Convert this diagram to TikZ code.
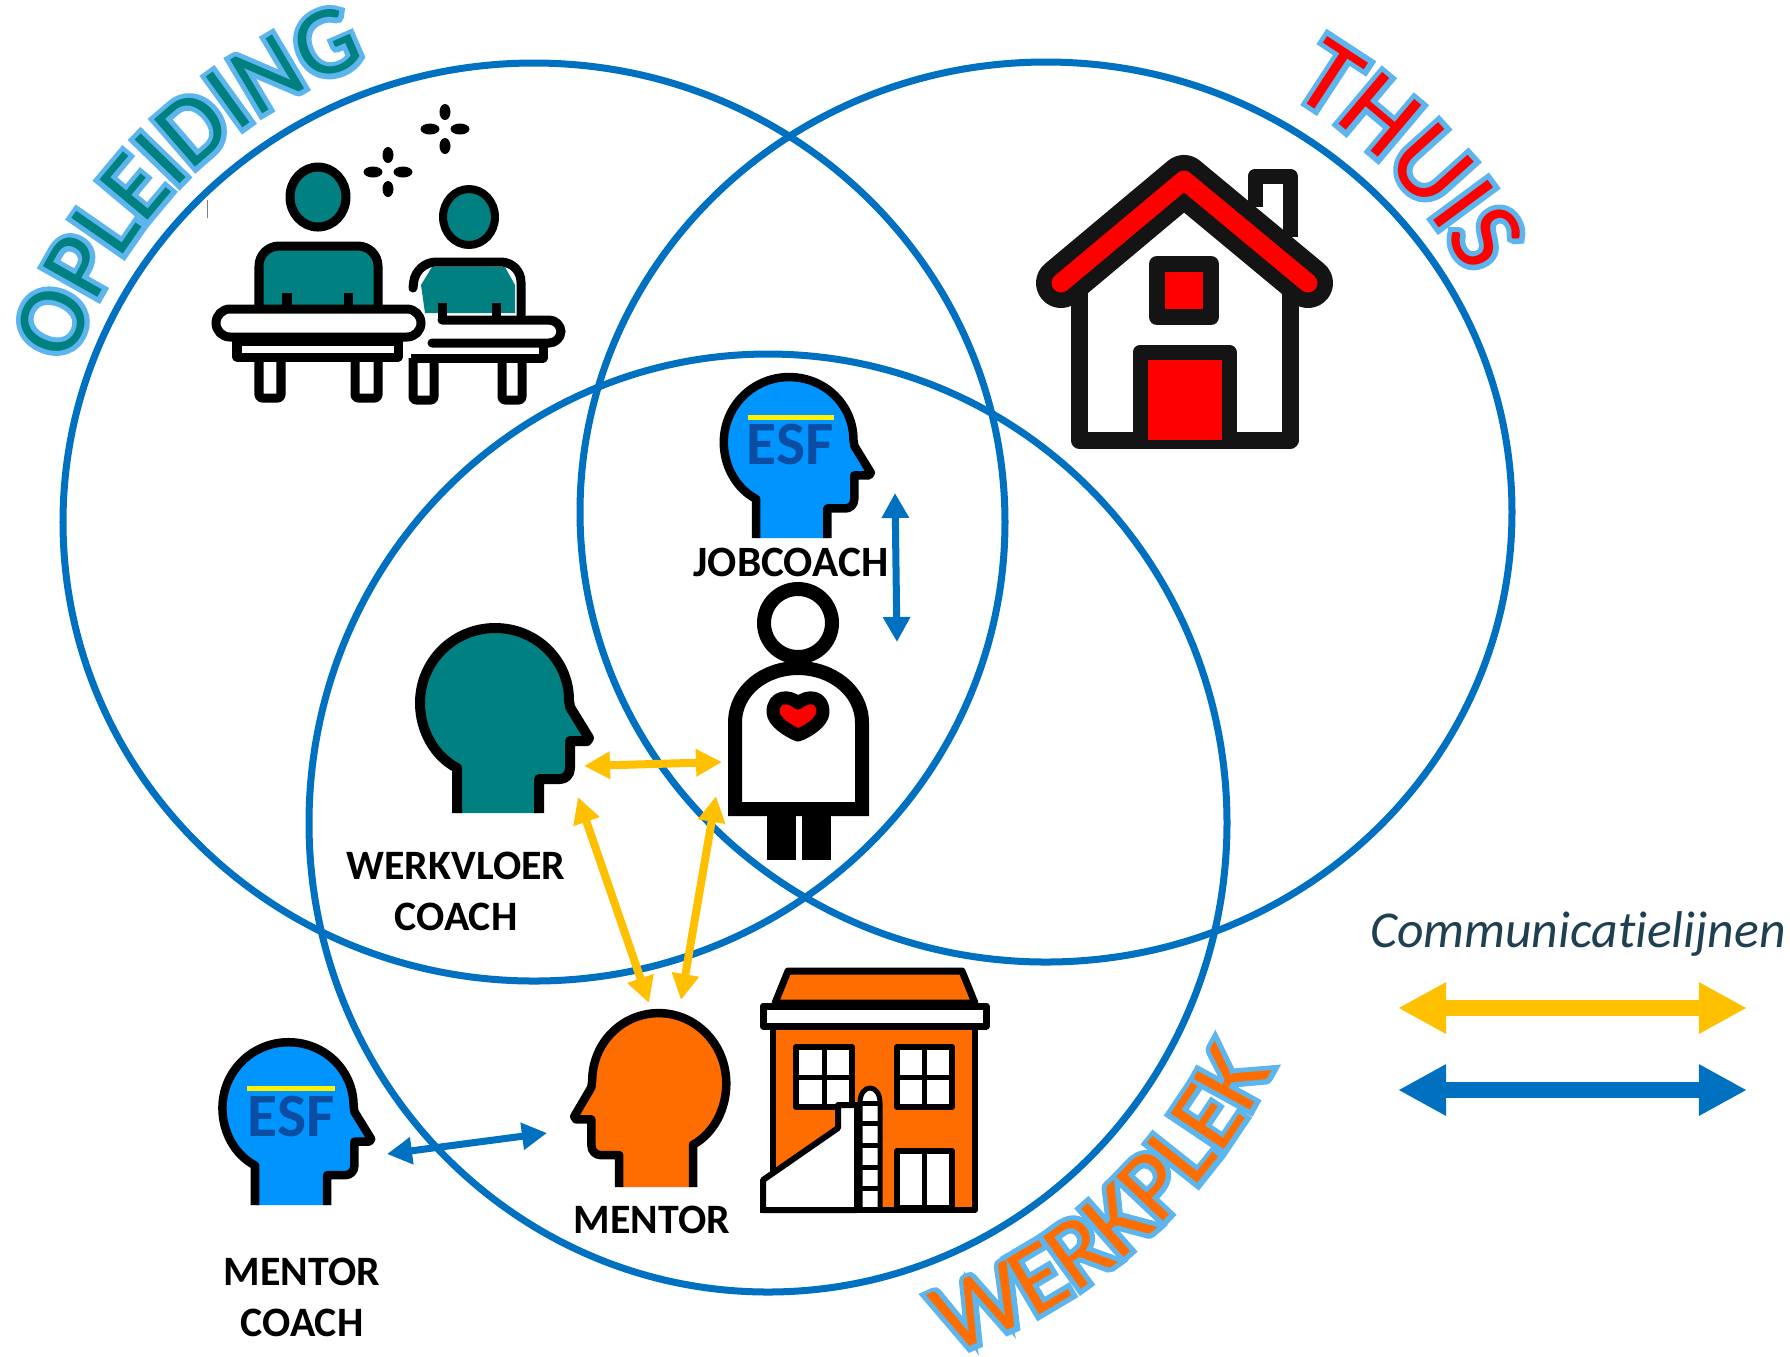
\documentclass[tikz,border=0pt]{standalone}
\usepackage{fontspec}
\setmainfont[Ligatures=NoCommon]{Carlito}
\newfontfamily\arcin{Carlito}
\newfontfamily\arcout[FakeBold=10]{Carlito}
\usetikzlibrary{arrows.meta,decorations.text}
\definecolor{ringblue}{HTML}{0070C0}
\definecolor{commyellow}{HTML}{FFC000}
\definecolor{schoolteal}{HTML}{008080}
\definecolor{esfblue}{HTML}{0094FF}
\definecolor{esfdark}{HTML}{0B4DA2}
\definecolor{workorange}{HTML}{FF6D00}
\definecolor{homered}{HTML}{FF0000}
\definecolor{arcblue}{HTML}{5CB5EC}
\definecolor{legendink}{HTML}{1F4050}
\definecolor{iconblack}{HTML}{141414}
\newcommand{\headoutline}{(0,0) -- (0,-45) .. controls (-23,-57) and (-37,-83) .. (-37,-110) .. controls (-37,-152) and (-3,-185) .. (38,-185) .. controls (80,-185) and (112,-152) .. (112,-113) -- (113,-106) -- (132,-75) -- (130,-72) -- (113,-72) -- (113,-45) .. controls (113,-38) and (108,-34) .. (103,-34) -- (82,-34) -- (82,0)}
\newcommand{\bowtext}[7]{%
	\path [line join=round, decorate, decoration={text along path, text align=center, text={|\arcout\fontsize{#3}{#3}\selectfont\color{arcblue}|#2}}] #4 ++(#5:#6) arc [start angle=#5, end angle=#7, radius=#6];
	\path [decorate, decoration={text along path, text align=center, text={|\arcin\fontsize{#3}{#3}\selectfont\color{#1}|#2}}] #4 ++(#5:#6) arc [start angle=#5, end angle=#7, radius=#6];}
\tikzset{
	ring/.style={draw=ringblue, line width=.07cm},
	rolelabel/.style={font=\fontsize{11.9}{14.5}\selectfont\bfseries, align=center, inner sep=0pt, text=black},
	esflabel/.style={font=\fontsize{17.5}{18}\selectfont\bfseries, inner sep=0pt, text=esfdark},
	yellowline/.style={commyellow, line width=.08cm, {Triangle[length=.26cm,width=.26cm]}-{Triangle[length=.26cm,width=.26cm]}},
	blueline/.style={ringblue, line width=.07cm, {Triangle[length=.25cm,width=.26cm]}-{Triangle[length=.25cm,width=.26cm]}},
	legendline/.style={line width=.16cm, {Triangle[length=.48cm,width=.48cm]}-{Triangle[length=.48cm,width=.48cm]}},
	icon/.style={draw=black, line join=round, line width=#1},
	icon/.default=.09cm,
	pics/headpic/.style={code={
		\fill [#1] \headoutline -- cycle;
		\draw [line join=round] \headoutline;
	}},
	pics/sparkpic/.style={code={
		\fill (0,-17) circle [x radius=5.5, y radius=8];
		\fill (0,17) circle [x radius=5.5, y radius=8];
		\fill (-15,0) circle [x radius=9.5, y radius=5.5];
		\fill (15,0) circle [x radius=9.5, y radius=5.5];
	}}
}
\begin{document}
\begin{tikzpicture}[x=.01cm,y=-.01cm]
		\useasboundingbox (0,0) rectangle (1790,1356);
		\fill [white] (0,0) rectangle (1790,1356);
		\draw [ring] (534,522) circle [x radius=471, y radius=459];
		\draw [ring] (1046,512) circle [x radius=466, y radius=450];
		\draw [ring] (768,823) circle [x radius=459, y radius=469];
		\bowtext{schoolteal}{OPLEIDING}{27.8}{(534,522)}{199.5}{490}{249.5}
		\bowtext{homered}{THUIS}{30}{(1046,512)}{301}{485}{330}
		\bowtext{workorange}{WERKPLEK}{28.5}{(768,823)}{71.5}{561}{25.5}
		%opleiding
		\draw [gray, line width=.01cm] (207,200) -- (207,218);
		\filldraw [icon, fill=schoolteal] (318,197) circle [x radius=28, y radius=30];
		\filldraw [icon, fill=schoolteal, rounded corners=.2cm] (259,305) -- (259,246) -- (378,246) -- (378,305);
		\draw [icon] (287,293) -- (287,305);
		\draw [icon] (348,293) -- (348,305);
		\filldraw [icon, fill=white, rounded corners=.14cm] (216,309) rectangle (421,337);
		\filldraw [icon, fill=white] (237,341) rectangle (398,357);
		\draw [icon, rounded corners=.03cm] (259,357) -- (259,398) -- (281,398) -- (281,357);
		\draw [icon, rounded corners=.03cm] (355,357) -- (355,398) -- (378,398) -- (378,357);
		\filldraw [icon=.08cm, fill=schoolteal] (469,217) circle [x radius=26, y radius=28];
		\fill [schoolteal] (421,285) -- (432,267) -- (505,267) -- (515,285) -- (515,313) -- (425,313) -- cycle;
		\draw [icon, line cap=round, rounded corners=.2cm] (413,288) -- (416,262) -- (521,262) -- (521,315);
		\draw [icon] (442,303) -- (442,320);
		\draw [icon] (496,303) -- (496,320);
		\draw [icon, rounded corners=.12cm, line cap=round] (442,320) -- (561,320) -- (561,343) -- (432,343);
		\draw [icon, line join=round] (411,358) -- (543,358) -- (543,343);
		\draw [icon, rounded corners=.03cm] (413,358) -- (413,400) -- (434,400) -- (434,358);
		\draw [icon, rounded corners=.03cm] (502,358) -- (502,400) -- (522,400) -- (522,358);
		\pic at (388,172) {sparkpic};
		\pic at (445,129) {sparkpic};
		%thuis
		\draw [iconblack, line width=.15cm, line join=round] (1255,207) -- (1255,176) -- (1290,176) -- (1290,237);
		\draw [iconblack, line width=.17cm, line join=round] (1079,290) -- (1079,440) -- (1290,440) -- (1290,290);
		\draw [iconblack, line width=.5cm, line cap=round, line join=round] (1061,283) -- (1184,180) -- (1308,283);
		\draw [homered, line width=.19cm, line cap=round, line join=round] (1061,283) -- (1184,180) -- (1308,283);
		\filldraw [draw=iconblack, fill=homered, line width=.16cm, line join=round] (1157,264) rectangle (1211,317);
		\filldraw [draw=iconblack, fill=homered, line width=.15cm, line join=round] (1140,440) -- (1140,352) -- (1229,352) -- (1229,440);
		%midden
		\pic [line width=.085cm, scale=.87] at (756,538) {headpic=esfblue};
		\fill [yellow] (748,415) rectangle (834,420);
		\node [esflabel] (jobesf) at (790,445) {ESF};
		\node [rolelabel, font=\fontsize{12.3}{14.5}\selectfont\bfseries] (jobcoach) at (791,562) {JOBCOACH};
		\draw [black, line width=.14cm] (798,623) circle [radius=34];
		\filldraw [draw=black, fill=white, line width=.14cm] (735,809) -- (735,723) .. controls (735,690) and (765,668) .. (798,668) .. controls (831,668) and (862,690) .. (862,723) -- (862,809) -- cycle;
		\fill [black] (767,816) rectangle (796,860);
		\fill [black] (802,816) rectangle (831,860);
		\filldraw [draw=black, fill=homered, line width=.13cm, line join=round] (798,703) .. controls (790,695) and (773,695) .. (773,712) .. controls (773,722) and (790,732) .. (798,735) .. controls (807,732) and (823,722) .. (823,712) .. controls (823,695) and (807,695) .. (798,703) -- cycle;
		\pic [line width=.1cm] at (457,813) {headpic=schoolteal};
		\node [rolelabel] (werkvloer) at (456,891) {WERKVLOER\\COACH};
		%mentor
		\pic [line width=.085cm, xscale=-.9, yscale=.94] at (693,1187) {headpic=workorange};
		\node [rolelabel] (mentor) at (652,1220) {MENTOR};
		\pic [line width=.085cm, scale=.88] at (255,1205) {headpic=esfblue};
		\fill [yellow] (247,1086) rectangle (335,1091);
		\node [esflabel] (coachesf) at (291,1117) {ESF};
		\node [rolelabel] (mentorcoach) at (302,1297) {MENTOR\\COACH};
		%werkplek
		\filldraw [icon=.06cm, fill=workorange] (773,1026) rectangle (975,1210);
		\filldraw [icon=.07cm, fill=workorange] (775,1003) -- (788,971) -- (962,971) -- (975,1003) -- cycle;
		\filldraw [icon=.07cm, fill=white] (763,1006) rectangle (986,1026);
		\filldraw [icon=.06cm, fill=white] (796,1047) rectangle (852,1107);
		\draw [icon=.05cm] (824,1047) -- (824,1107);
		\draw [icon=.05cm] (796,1077) -- (852,1077);
		\filldraw [icon=.06cm, fill=white] (897,1047) rectangle (952,1107);
		\draw [icon=.05cm] (924,1047) -- (924,1107);
		\draw [icon=.05cm] (897,1077) -- (952,1077);
		\filldraw [icon=.06cm, fill=white] (897,1208) -- (897,1151) -- (952,1151) -- (952,1208) -- cycle;
		\draw [icon=.05cm] (924,1151) -- (924,1208);
		\filldraw [icon=.06cm, fill=white] (763,1180) -- (838,1128) -- (838,1105) -- (857,1105) -- (857,1210) -- (763,1210) -- cycle;
		\filldraw [icon=.05cm, fill=white] (860,1210) -- (860,1103) .. controls (860,1083) and (880,1083) .. (880,1103) -- (880,1210);
		\foreach \rungy in {1103,1123,1145,1167,1188} {
			\draw [icon=.05cm] (860,\rungy) -- (880,\rungy);
		}
		\draw [icon=.06cm] (760,1210) -- (975,1210);
		%lijnen
		\coordinate (wvright) at (584,766);
		\coordinate (personleft) at (722,762);
		\coordinate (wvlow) at (578,797);
		\coordinate (mentortopa) at (649,1003);
		\coordinate (personlow) at (716,796);
		\coordinate (mentortopb) at (681,1000);
		\coordinate (jobunder) at (895,493);
		\coordinate (personright) at (897,642);
		\coordinate (coachright) at (387,1154);
		\coordinate (mentorleft) at (547,1133);
		\draw [yellowline] (wvright) -- (personleft);
		\draw [yellowline] (wvlow) -- (mentortopa);
		\draw [yellowline] (personlow) -- (mentortopb);
		\draw [blueline] (jobunder) -- (personright);
		\draw [blueline] (coachright) -- (mentorleft);
		%legenda
		\node [font=\fontsize{14.7}{16}\selectfont\itshape, text=legendink, inner sep=0pt] (legendtitle) at (1578,934) {Communicatielijnen};
		\coordinate (yellowa) at (1398,1008);
		\coordinate (yellowb) at (1747,1008);
		\coordinate (bluea) at (1398,1090);
		\coordinate (blueb) at (1747,1090);
		\draw [legendline, commyellow] (yellowa) -- (yellowb);
		\draw [legendline, ringblue] (bluea) -- (blueb);
		\end{tikzpicture}
\end{document}
